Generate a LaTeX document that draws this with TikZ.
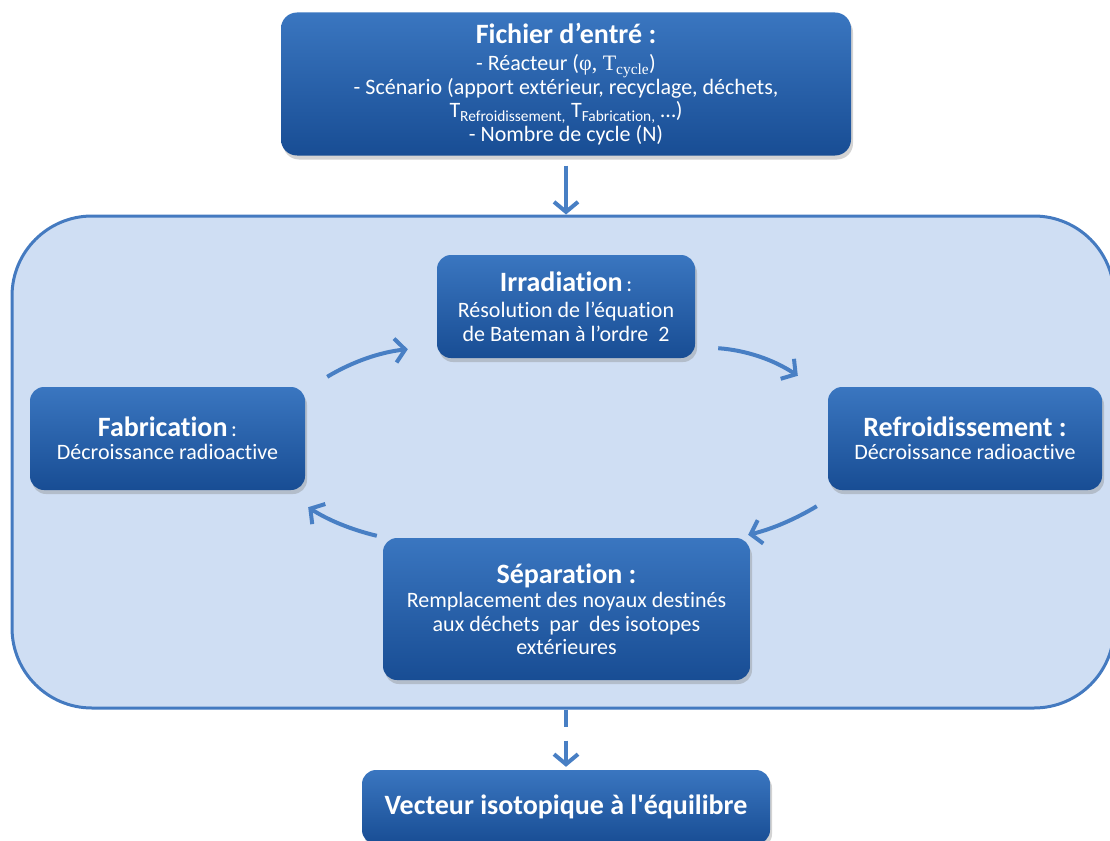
\documentclass[tikz,border=0pt]{standalone}
\usepackage{fontspec}
\setmainfont{Carlito}[Ligatures={TeXOff,NoCommon}]
\newfontfamily\tnr{Liberation Serif}
\usetikzlibrary{arrows.meta,positioning,shadows}
\definecolor{boxtop}{RGB}{58,118,192}
\definecolor{boxbot}{RGB}{24,77,148}
\definecolor{cycfill}{RGB}{207,222,243}
\definecolor{cycline}{RGB}{68,122,192}
\definecolor{arrblue}{RGB}{72,127,196}
\newcommand{\ttl}{\fontsize{28}{31}\selectfont\bfseries}
\newcommand{\txt}{\fontsize{22}{23.5}\selectfont}

\begin{document}
\begin{tikzpicture}[x=1pt,y=-1pt]
	\tikzstyle{box}=[rectangle, rounded corners=14pt, top color=boxtop, bottom color=boxbot, text=white, align=center, font=\txt, inner sep=2pt, drop shadow={shadow xshift=2pt, shadow yshift=-4pt, opacity=0.35}]
	\tikzstyle{arr}=[draw=arrblue, line width=4pt, -{Straight Barb[length=10pt, width=24pt]}]

	\useasboundingbox (0,0) rectangle (1110,840);
	\clip (0,0) rectangle (1110,840);

	\node[draw=cycline, line width=3pt, fill=cycfill, rounded corners=80pt, minimum width=1102pt, minimum height=492pt] (cyc) at (563,462) {};

	\node[box, minimum width=570pt, minimum height=143pt, rounded corners=16pt] (inp) at (566,84) {{\ttl Fichier d’entré :}\\[4pt] - Réacteur ({\tnr φ, T\textsubscript{cycle}})\\ - Scénario (apport extérieur, recyclage, déchets,\\ T\textsubscript{Refroidissement,} T\textsubscript{Fabrication,} …)\\ - Nombre de cycle (N)};

	\node[box, minimum width=258pt, minimum height=103pt] (irr) at (566,306.5) {{\ttl Irradiation}\,:\\[3pt] Résolution de l’équation\\ de Bateman à l’ordre\ \ 2};
	\node[box, minimum width=275pt, minimum height=103pt] (fab) at (167.5,438.5) {{\ttl Fabrication}\,:\\ Décroissance radioactive};
	\node[box, minimum width=274pt, minimum height=103pt] (refr) at (965,438.5) {{\ttl Refroidissement :}\\ Décroissance radioactive};
	\node[box, minimum width=367pt, minimum height=142pt] (sep) at (566.5,609) {{\ttl Séparation :}\\[1pt] Remplacement des noyaux destinés\\ aux déchets\ \ par\ \ des isotopes\\ extérieures};

	\node[box, minimum width=408pt, minimum height=74pt] (out) at (566,807) {\fontsize{28}{32}\selectfont\bfseries Vecteur isotopique à l'équilibre};

	% cycle arrows
	\coordinate[shift={(22,-10)}] (a1) at (fab.north east);
	\coordinate[shift={(-29,-9)}] (b1) at (irr.south west);
	\coordinate[shift={(23,-10)}] (a2) at (irr.south east);
	\coordinate[shift={(-30,-11)}] (b2) at (refr.north west);
	\coordinate[shift={(-11,16)}] (a3) at (refr.south west);
	\coordinate[shift={(-2,-3)}] (b3) at (sep.north east);
	\coordinate[shift={(-6,-2)}] (a4) at (sep.north west);
	\coordinate[shift={(3,17)}] (b4) at (fab.south east);

	\draw[arr] (a1) .. controls +(25,-15) and +(-28,3) .. (b1);
	\draw[arr] (a2) .. controls +(28,2) and +(-24,-16) .. (b2);
	\draw[arr] (a3) .. controls +(-20,12) and +(25,-6) .. (b3);
	\draw[arr] (a4) .. controls +(-25,-6) and +(20,13) .. (b4);

	\coordinate[shift={(0,10)}] (t1) at (inp.south);
	\draw[arr] (t1) -- (t1 |- cyc.north);
	\draw[arr, dash pattern=on 17pt off 14pt on 80pt] (out.north |- cyc.south) -- ([yshift=3pt]out.north);
\end{tikzpicture}
\end{document}
